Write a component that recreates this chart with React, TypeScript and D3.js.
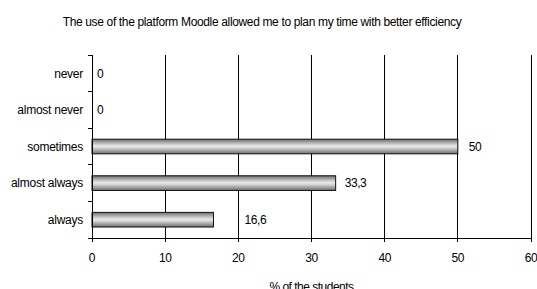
import React from "react";
import * as d3 from "d3";

const categories = ["never", "almost never", "sometimes", "almost always", "always"];
const values = [0, 0, 50, 33.3, 16.6];
const valueLabels = ["0", "0", "50", "33,3", "16,6"];
const xTicks = [0, 10, 20, 30, 40, 50, 60];
const labelGap = [5, 5, 11, 9, 31];
const title = "The use of the platform Moodle allowed me to plan my time with better efficiency";
const xTitle = "% of the students";

const W = 537;
const H = 289;
const margin = { left: 92, right: 6, top: 55, bottom: 51 };

export default function App() {
  const x = d3.scaleLinear().domain([0, 60]).range([margin.left, W - margin.right]);
  const y = d3.scaleBand<string>().domain(categories).range([margin.top, H - margin.bottom]).paddingInner(0.6).paddingOuter(0.3);
  const band = d3.scaleBand<string>().domain(categories).range([margin.top, H - margin.bottom]);
  const font = "'Liberation Sans', Arial, sans-serif";
  const y0 = margin.top;
  const y1 = H - margin.bottom;
  const boundaries = d3.range(categories.length + 1).map((i) => y0 + i * band.step());
  return (
    <svg width={W} height={H} style={{ position: "absolute", left: 0, top: 0, display: "block" }} fontFamily={font}>
      <defs>
        <linearGradient id="barGrad" x1="0" y1="0" x2="0" y2="1">
          <stop offset="0" stopColor="#6e6e6e" />
          <stop offset="0.45" stopColor="#e6e6e6" />
          <stop offset="0.55" stopColor="#e0e0e0" />
          <stop offset="1" stopColor="#6e6e6e" />
        </linearGradient>
      </defs>
      <rect x={0} y={0} width={W} height={H} fill="#fff" />
      <text x={262} y={26} fontSize={12} textAnchor="middle" fill="#000" letterSpacing={-0.35}>{title}</text>
      {xTicks.slice(1).map((t) => (
        <line key={t} x1={x(t)} x2={x(t)} y1={y0} y2={y1} stroke="#000" strokeWidth={1} shapeRendering="crispEdges" />
      ))}
      {categories.map((c, i) => (
        <g key={c}>
          {values[i] > 0 && (
            <rect x={x(0)} y={y(c)} width={x(values[i]) - x(0)} height={y.bandwidth()} fill="url(#barGrad)" stroke="#111" strokeWidth={1} />
          )}
          <text x={x(values[i]) + labelGap[i]} y={(band(c) ?? 0) + band.bandwidth() / 2} dy="0.35em" fontSize={12} fill="#000" letterSpacing={-0.4}>{valueLabels[i]}</text>
          <text x={x(0) - 9} y={(band(c) ?? 0) + band.bandwidth() / 2} dy="0.35em" fontSize={12} textAnchor="end" fill="#000" letterSpacing={-0.25}>{c}</text>
        </g>
      ))}
      <line x1={x(0)} x2={x(0)} y1={y0} y2={y1 + 4} stroke="#000" shapeRendering="crispEdges" />
      {boundaries.map((b, i) => (
        <line key={i} x1={x(0) - 4} x2={x(0)} y1={b} y2={b} stroke="#000" shapeRendering="crispEdges" />
      ))}
      <line x1={x(0)} x2={x(60)} y1={y1} y2={y1} stroke="#000" shapeRendering="crispEdges" />
      {xTicks.map((t) => (
        <g key={t}>
          <line x1={x(t)} x2={x(t)} y1={y1} y2={y1 + 4} stroke="#000" shapeRendering="crispEdges" />
          <text x={x(t)} y={y1 + 20} dy="0.35em" fontSize={12} textAnchor="middle" fill="#000" letterSpacing={-0.4}>{t}</text>
        </g>
      ))}
      <text x={(x(0) + x(60)) / 2} y={291} fontSize={12} textAnchor="middle" fill="#000" letterSpacing={-0.5}>{xTitle}</text>
    </svg>
  );
}
